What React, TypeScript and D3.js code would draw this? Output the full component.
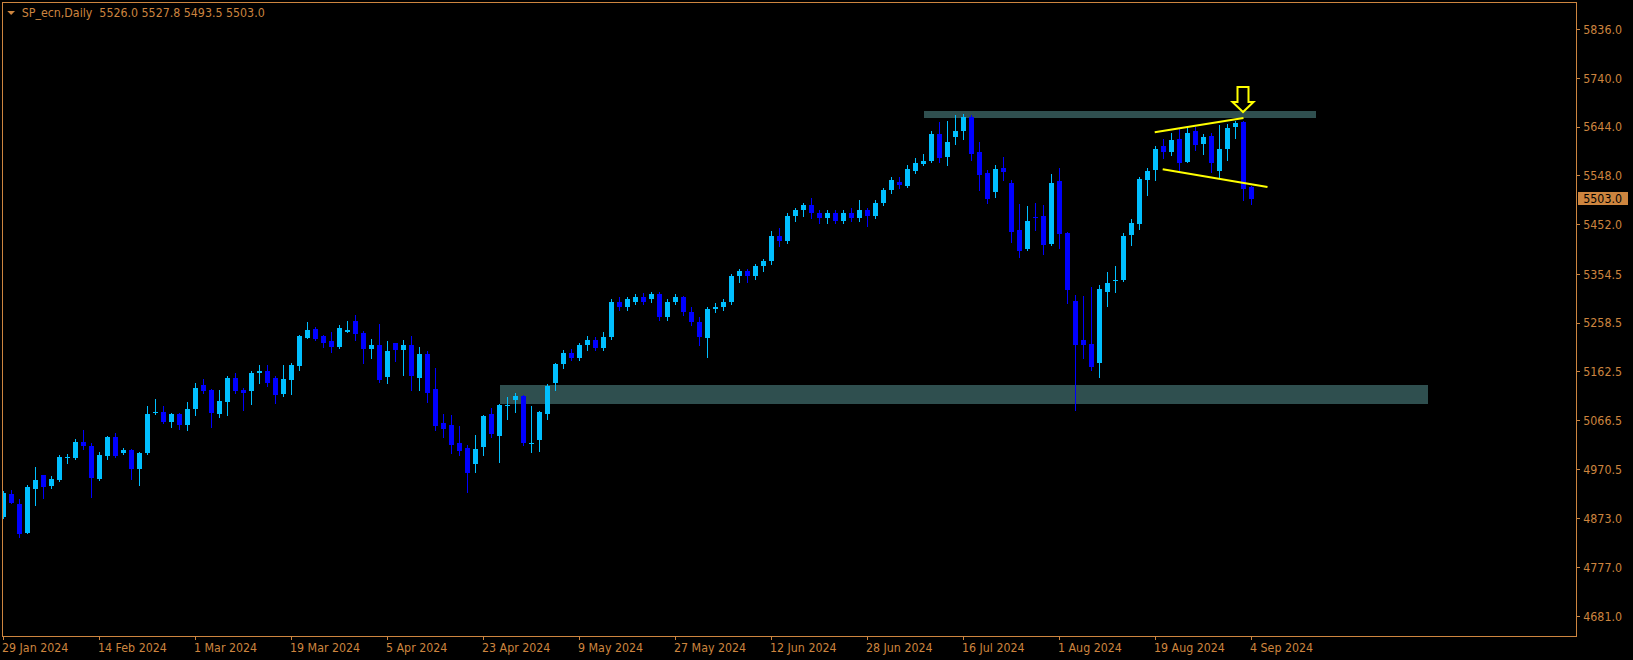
import React from "react";
import * as d3 from "d3";

const symbolTitle = "SP_ecn,Daily";
const lastBarOHLC = ["5526.0", "5527.8", "5493.5", "5503.0"];
const lastPrice = 5503.0;

const dateLabels = [
  "29 Jan 2024", "14 Feb 2024", "1 Mar 2024", "19 Mar 2024", "5 Apr 2024",
  "23 Apr 2024", "9 May 2024", "27 May 2024", "12 Jun 2024", "28 Jun 2024",
  "16 Jul 2024", "1 Aug 2024", "19 Aug 2024", "4 Sep 2024",
];
const dateLabelBars = [0, 12, 24, 36, 48, 60, 72, 84, 96, 108, 120, 132, 144, 156];

const priceTicks = [5836.0, 5740.0, 5644.0, 5548.0, 5452.0, 5354.5, 5258.5, 5162.5, 5066.5, 4970.5, 4873.0, 4777.0, 4681.0];

const opens = [
  4877, 4922, 4903, 4846, 4931, 4960, 4938, 4950, 4994, 4993,
  5024, 5017, 4952, 4997, 5034, 5003, 5009, 4971, 5003, 5082,
  5084, 5063, 5080, 5058, 5089, 5137, 5127, 5080, 5103, 5150,
  5127, 5125, 5160, 5165, 5150, 5119, 5146, 5174, 5229, 5247,
  5233, 5223, 5211, 5241, 5262, 5239, 5207, 5215, 5152, 5219,
  5205, 5215, 5150, 5198, 5129, 5062, 5058, 5023, 5013, 4981,
  5015, 5080, 5036, 5096, 5107, 5115, 5022, 5028, 5080, 5141,
  5178, 5200, 5190, 5215, 5225, 5210, 5230, 5300, 5290, 5300,
  5310, 5305, 5315, 5270, 5300, 5310, 5280, 5260, 5229, 5286,
  5290, 5300, 5350, 5360, 5350, 5370, 5380, 5430, 5420, 5470,
  5480, 5490, 5475, 5465, 5475, 5460, 5475, 5465, 5480, 5470,
  5495, 5520, 5535, 5528, 5557, 5571, 5577, 5630, 5585, 5624,
  5636, 5664, 5595, 5553, 5516, 5563, 5534, 5441, 5404, 5467,
  5469, 5414, 5538, 5435, 5302, 5225, 5217, 5180, 5319, 5342,
  5343, 5432, 5453, 5540, 5559, 5606, 5595, 5620, 5575, 5636,
  5610, 5626, 5557, 5601, 5644, 5654, 5526.0,
];
const highs = [
  4928, 4930, 4912, 4940, 4975, 4960, 4957, 4999, 5001, 5030,
  5048, 5022, 5005, 5036, 5042, 5013, 5010, 5005, 5095, 5109,
  5095, 5082, 5081, 5103, 5141, 5148, 5128, 5127, 5155, 5160,
  5130, 5165, 5175, 5175, 5155, 5176, 5180, 5235, 5260, 5251,
  5235, 5241, 5255, 5262, 5274, 5243, 5227, 5257, 5223, 5220,
  5225, 5233, 5211, 5203, 5170, 5080, 5078, 5056, 5019, 5038,
  5077, 5091, 5099, 5113, 5121, 5116, 5095, 5086, 5139, 5180,
  5205, 5208, 5220, 5232, 5230, 5240, 5305, 5310, 5310, 5315,
  5318, 5320, 5320, 5305, 5315, 5312, 5290, 5270, 5290, 5298,
  5305, 5355, 5365, 5365, 5375, 5385, 5440, 5445, 5475, 5485,
  5495, 5505, 5480, 5480, 5480, 5480, 5485, 5500, 5485, 5500,
  5525, 5545, 5545, 5569, 5583, 5591, 5636, 5654, 5656, 5668,
  5669, 5668, 5614, 5559, 5569, 5585, 5540, 5492, 5488, 5494,
  5490, 5551, 5563, 5437, 5313, 5312, 5329, 5333, 5359, 5371,
  5435, 5463, 5546, 5563, 5606, 5620, 5632, 5640, 5644, 5644,
  5630, 5632, 5648, 5650, 5656, 5655, 5527.8,
];
const lows = [
  4874, 4904, 4838, 4845, 4901, 4915, 4933, 4948, 4984, 4991,
  5011, 4917, 4950, 4991, 4995, 5001, 4952, 4940, 5000, 5079,
  5061, 5054, 5050, 5048, 5078, 5121, 5054, 5074, 5078, 5120,
  5087, 5100, 5140, 5135, 5102, 5115, 5119, 5166, 5229, 5225,
  5211, 5201, 5209, 5240, 5225, 5180, 5190, 5142, 5140, 5184,
  5156, 5127, 5127, 5103, 5048, 5034, 5003, 4999, 4925, 4966,
  4999, 5034, 4985, 5070, 5084, 5019, 5005, 5007, 5070, 5127,
  5170, 5185, 5185, 5205, 5205, 5205, 5228, 5285, 5285, 5295,
  5295, 5300, 5265, 5265, 5295, 5275, 5255, 5215, 5192, 5280,
  5285, 5295, 5340, 5340, 5345, 5360, 5375, 5410, 5415, 5460,
  5470, 5465, 5455, 5455, 5455, 5455, 5460, 5460, 5450, 5465,
  5490, 5515, 5525, 5526, 5553, 5569, 5575, 5575, 5569, 5610,
  5620, 5579, 5520, 5494, 5506, 5540, 5418, 5388, 5402, 5441,
  5394, 5412, 5406, 5298, 5087, 5190, 5166, 5152, 5292, 5319,
  5341, 5412, 5443, 5510, 5540, 5583, 5589, 5559, 5575, 5599,
  5591, 5555, 5544, 5579, 5622, 5500, 5493.5,
];
const closes = [
  4924, 4905, 4844, 4936, 4950, 4936, 4952, 4995, 4995, 5024,
  5017, 4954, 4999, 5034, 4997, 5009, 4971, 5003, 5080, 5084,
  5063, 5080, 5057, 5089, 5131, 5125, 5082, 5105, 5150, 5125,
  5121, 5160, 5165, 5140, 5117, 5148, 5176, 5233, 5245, 5227,
  5219, 5211, 5249, 5245, 5237, 5207, 5215, 5146, 5203, 5205,
  5215, 5154, 5198, 5121, 5056, 5050, 5019, 5007, 4964, 5011,
  5076, 5040, 5097, 5098, 5115, 5023, 5023, 5084, 5135, 5178,
  5200, 5190, 5215, 5225, 5210, 5230, 5300, 5290, 5305, 5310,
  5300, 5315, 5270, 5300, 5310, 5280, 5260, 5230, 5286, 5290,
  5300, 5350, 5360, 5350, 5370, 5380, 5430, 5420, 5470, 5480,
  5490, 5475, 5465, 5475, 5460, 5475, 5465, 5480, 5470, 5495,
  5520, 5540, 5530, 5561, 5573, 5577, 5630, 5583, 5614, 5636,
  5664, 5591, 5550, 5502, 5561, 5555, 5437, 5400, 5459, 5466,
  5412, 5534, 5433, 5323, 5215, 5215, 5172, 5325, 5337, 5343,
  5430, 5455, 5542, 5557, 5601, 5595, 5618, 5573, 5632, 5608,
  5624, 5573, 5601, 5642, 5652, 5522, 5503.0,
];

// rectangle zones
const zoneStartBars = [115, 62];
const zoneEndBars = [164, 178];
const zoneTopPrices = [5675.4, 5136.6];
const zoneBottomPrices = [5661.6, 5099.2];

// trend lines endpoints (bar index, price)
const upperTrendBars = [143.9, 155.0];
const upperTrendPrices = [5634, 5662];
const lowerTrendBars = [144.9, 158.0];
const lowerTrendPrices = [5561, 5526];

const arrowBar = 155;
const arrowPrice = 5673;

const FG = "#CD853F";
const BULL = "#00BFFF";
const BEAR = "#0000FF";
const ZONE = "#2F4F4F";
const FONT = "'DejaVu Sans Condensed', 'DejaVu Sans', sans-serif";
const FS = 12.3;

export default function App() {
  const W = 1633, H = 660;
  const left = 2.5, top = 2.5, right = 1576.5, bottom = 636.5;
  const x = d3.scaleLinear().domain([0, 156]).range([3.5, 1251.5]);
  const y = d3.scaleLinear().domain([4681, 5836]).range([616.5, 29.5]);

  const candles = opens.map((o, i) => {
    const c = closes[i], h = highs[i], l = lows[i];
    const bull = c >= o;
    const col = bull ? BULL : BEAR;
    const cx = x(i);
    const bt = Math.round(y(Math.max(o, c)));
    const bb = Math.round(y(Math.min(o, c)));
    const bh = Math.max(1, bb - bt);
    const wt = Math.round(y(h));
    const wb = Math.round(y(l)) + 1;
    return (
      <g key={i}>
        <line x1={cx} x2={cx} y1={wt} y2={wb} stroke={col} strokeWidth={1} />
        <rect x={cx - 2.5} y={bt} width={5} height={bh} fill={col} />
      </g>
    );
  });

  const trend = (bars: number[], prices: number[]) =>
    d3.line<number>().x((b) => x(b)).y((_, k) => y(prices[k]))(bars) || "";

  const ax = x(arrowBar) - 0.5, ay = Math.round(y(arrowPrice));
  const arrowPath = `M${ax},${ay} L${ax - 10.5},${ay - 10} L${ax - 5.5},${ay - 10} L${ax - 5.5},${ay - 25} L${ax + 5.5},${ay - 25} L${ax + 5.5},${ay - 10} L${ax + 10.5},${ay - 10} Z`;

  const lpY = y(lastPrice);
  const txtStyle = { fontStretch: "condensed" as const };

  return (
    <svg width={W} height={H} style={{ position: "absolute", left: 0, top: 0, display: "block", background: "#000" }}
      fontFamily={FONT} fontSize={FS}>
      <rect x={0} y={0} width={W} height={H} fill="#000" />
      <defs>
        <clipPath id="plotclip">
          <rect x={left + 0.5} y={top + 0.5} width={right - left - 1} height={bottom - top - 1} />
        </clipPath>
      </defs>
      <g clipPath="url(#plotclip)" shapeRendering="crispEdges">
        {zoneStartBars.map((s, k) => (
          <rect key={k} x={x(s)} y={Math.round(y(zoneTopPrices[k]))}
            width={x(zoneEndBars[k]) - x(s)}
            height={Math.round(y(zoneBottomPrices[k])) - Math.round(y(zoneTopPrices[k]))}
            fill={ZONE} />
        ))}
        {candles}
      </g>
      <g clipPath="url(#plotclip)">
        <path d={trend(upperTrendBars, upperTrendPrices)} stroke="#FFFF00" strokeWidth={2} fill="none" />
        <path d={trend(lowerTrendBars, lowerTrendPrices)} stroke="#FFFF00" strokeWidth={2} fill="none" />
        <path d={arrowPath} fill="#000" stroke="#FFFF00" strokeWidth={2} strokeLinejoin="miter" />
      </g>
      <rect x={left} y={top} width={right - left} height={bottom - top} fill="none" stroke={FG} strokeWidth={1} shapeRendering="crispEdges" />
      <g shapeRendering="crispEdges">
        {priceTicks.map((p) => (
          <g key={p}>
            <line x1={right} x2={right + 3} y1={y(p)} y2={y(p)} stroke={FG} />
            <text x={right + 6.8} y={y(p) + 4.4} fill={FG} style={txtStyle}>{p.toFixed(1)}</text>
          </g>
        ))}
        <rect x={right + 1.5} y={lpY - 6.5} width={50} height={13} fill={FG} />
        <text x={right + 6.8} y={lpY + 4.6} fill="#000" style={txtStyle}>{lastPrice.toFixed(1)}</text>
      </g>
      <g shapeRendering="crispEdges">
        {dateLabelBars.map((b, k) => (
          <g key={b}>
            <line x1={x(b)} x2={x(b)} y1={bottom} y2={bottom + 3.5} stroke={FG} />
            <text x={x(b) - 1.5} y={652} fill={FG} style={txtStyle}>{dateLabels[k]}</text>
          </g>
        ))}
      </g>
      <path d="M7.3,11 L15,11 L11.15,15 Z" fill={FG} />
      <text x={21.7} y={16.7} fill={FG} style={{ whiteSpace: "pre", fontStretch: "condensed" }}>
        {`${symbolTitle}  ${lastBarOHLC.join(" ")}`}
      </text>
    </svg>
  );
}
